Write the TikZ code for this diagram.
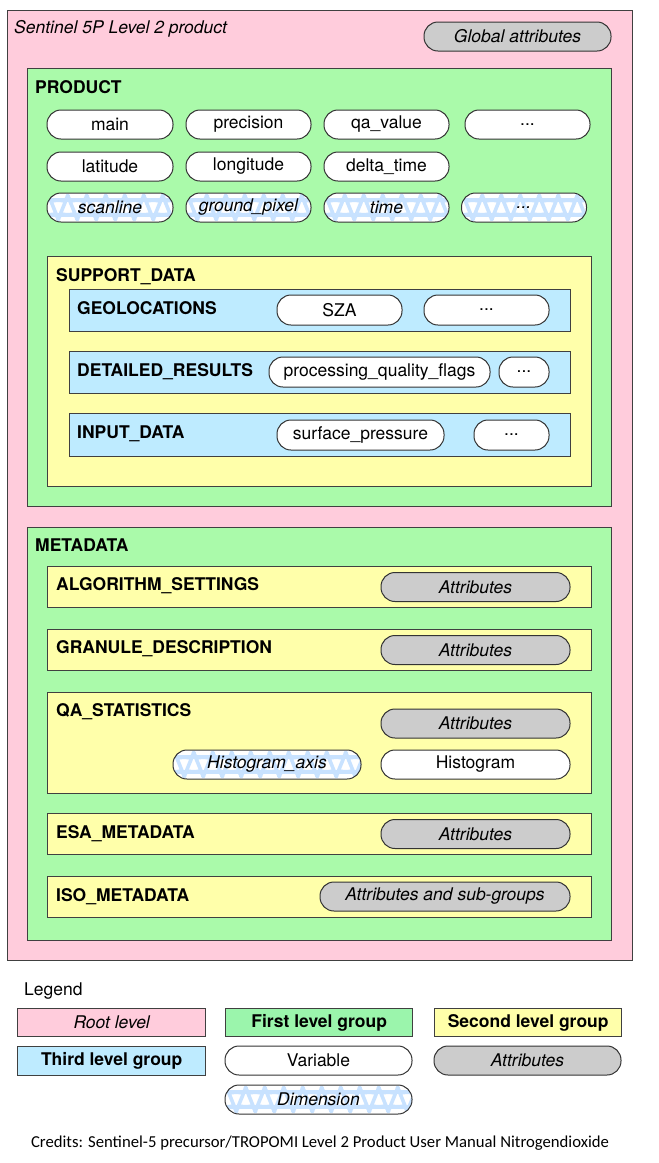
\documentclass[tikz,border=0pt]{standalone}
\usepackage{fontspec}
\setmainfont{TeX Gyre Heros}
\newfontfamily\credfont{Carlito}
\usepackage{tikz}

\newcommand{\fs}{\fontsize{17.5}{21}\selectfont}

\definecolor{rootpink}{RGB}{255,204,220}
\definecolor{firstgreen}{RGB}{170,250,170}
\definecolor{legendgreen}{RGB}{155,245,172}
\definecolor{secondyellow}{RGB}{255,255,170}
\definecolor{thirdblue}{RGB}{190,235,255}
\definecolor{attrgray}{RGB}{204,204,204}
\definecolor{wavecol}{RGB}{200,226,255}

\tikzset{
  grp/.style={draw=black!75, line width=1pt, anchor=north west, inner sep=0pt},
  root/.style={grp, fill=rootpink},
  first/.style={grp, fill=firstgreen},
  second/.style={grp, fill=secondyellow},
  third/.style={grp, fill=thirdblue},
  ttl/.style={anchor=base west, inner sep=0pt, font=\fs\bfseries},
  pill/.style={draw=black!80, line width=1pt, fill=white, rounded corners=14pt,
    minimum height=29pt, inner sep=0pt, font=\fs},
  attr/.style={pill, fill=attrgray, font=\fs\itshape},
  dimv/.style={pill, font=\fs\itshape,
    path picture={\draw[wavecol, line width=3.6pt] (path picture bounding box.west) ++(-3,0)
      \foreach \k in {1,...,11} {sin ++(4.75,-7.5) cos ++(4.75,7.5) sin ++(4.75,7.5) cos ++(4.75,-7.5)};}},
  legbox/.style={draw=black!75, line width=1.4pt, minimum width=188pt, minimum height=28pt,
    anchor=north west, inner sep=0pt}
}

\begin{document}
\begin{tikzpicture}[x=1pt, y=-1pt]
        \useasboundingbox (0,0) rectangle (659,1163);

        % Define the root level
        \node[root, minimum width=625pt, minimum height=950pt] (root) at (7,10) {};
        \node[anchor=base west, inner sep=0pt, font=\fs\itshape] (rootlbl) at (14,33) {Sentinel 5P Level 2 product};
        \node[attr, minimum width=187pt] (globattr) at (517.5,36.5) {Global attributes};

        % Define the PRODUCT group
        \node[first, minimum width=584pt, minimum height=438pt] (product) at (27,68) {};
        \node[ttl] (productlbl) at (35,93) {PRODUCT};
        \node[pill, minimum width=126pt] (main) at (110,124.5) {main};
        \node[pill, minimum width=125pt] (precision) at (248.5,124.5) {precision};
        \node[pill, minimum width=125pt] (qavalue) at (386.5,124.5) {qa\_value};
        \node[pill, minimum width=125pt] (prodmore) at (527.5,124.5) {...};
        \node[pill, minimum width=126pt] (latitude) at (110,166.5) {latitude};
        \node[pill, minimum width=125pt] (longitude) at (248.5,166.5) {longitude};
        \node[pill, minimum width=125pt] (deltatime) at (386.5,166.5) {delta\_time};
        \node[dimv, minimum width=126pt] (scanline) at (110,207.5) {scanline};
        \node[dimv, minimum width=125pt] (groundpixel) at (248.5,207.5) {ground\_pixel};
        \node[dimv, minimum width=125pt] (time) at (386.5,207.5) {time};
        \node[dimv, minimum width=125pt] (dimmore) at (524,207.5) {...};

        % Define the SUPPORT_DATA group
        \node[second, minimum width=544pt, minimum height=230pt] (support) at (47,256) {};
        \node[ttl] (supportlbl) at (56,281) {SUPPORT\_DATA};

        \node[third, minimum width=501pt, minimum height=42pt] (geoloc) at (69,289) {};
        \node[ttl] (geoloclbl) at (77,314) {GEOLOCATIONS};
        \node[pill, minimum width=125pt, minimum height=30pt] (sza) at (339.5,310) {SZA};
        \node[pill, minimum width=125pt, minimum height=30pt] (geomore) at (486.5,310) {...};

        \node[third, minimum width=501pt, minimum height=42pt] (detailed) at (69,351) {};
        \node[ttl] (detailedlbl) at (77,376) {DETAILED\_RESULTS};
        \node[pill, minimum width=221pt, minimum height=30pt] (pqf) at (379.5,372) {processing\_quality\_flags};
        \node[pill, minimum width=50pt, minimum height=30pt] (detmore) at (524,372) {...};

        \node[third, minimum width=501pt, minimum height=43pt] (input) at (69,413) {};
        \node[ttl] (inputlbl) at (77,438) {INPUT\_DATA};
        \node[pill, minimum width=167pt, minimum height=30pt] (surfp) at (360.5,435) {surface\_pressure};
        \node[pill, minimum width=75pt, minimum height=30pt] (inmore) at (511.5,435) {...};

        % Define the METADATA group
        \node[first, minimum width=584pt, minimum height=413pt] (metadata) at (27,527) {};
        \node[ttl] (metadatalbl) at (35,551) {METADATA};

        \node[second, minimum width=544pt, minimum height=41pt] (algo) at (47,566) {};
        \node[ttl] (algolbl) at (56,590) {ALGORITHM\_SETTINGS};
        \node[attr, minimum width=189pt] (algoattr) at (475.5,587) {Attributes};

        \node[second, minimum width=544pt, minimum height=41pt] (granule) at (47,629) {};
        \node[ttl] (granulelbl) at (56,653) {GRANULE\_DESCRIPTION};
        \node[attr, minimum width=189pt] (granattr) at (475.5,650) {Attributes};

        \node[second, minimum width=544pt, minimum height=101pt] (qastat) at (47,692) {};
        \node[ttl] (qastatlbl) at (56,716) {QA\_STATISTICS};
        \node[attr, minimum width=189pt] (qaattr) at (475.5,723.5) {Attributes};
        \node[dimv, minimum width=188pt] (histaxis) at (267,764.5) {Histogram\_axis};
        \node[pill, minimum width=189pt] (histogram) at (475.5,764.5) {Histogram};

        \node[second, minimum width=544pt, minimum height=41pt] (esa) at (47,813) {};
        \node[ttl] (esalbl) at (56,838) {ESA\_METADATA};
        \node[attr, minimum width=189pt] (esaattr) at (475.5,834) {Attributes};

        \node[second, minimum width=544pt, minimum height=41pt] (iso) at (47,876) {};
        \node[ttl] (isolbl) at (56,901) {ISO\_METADATA};
        \node[attr, minimum width=250pt] (isoattr) at (445,896.5) {Attributes and sub-groups};

        % Define the legend
        \node[anchor=base west, inner sep=0pt, font=\fs] (legend) at (24,995) {Legend};
        \node[legbox, fill=rootpink, font=\fs\itshape] (legroot) at (17,1008) {Root level};
        \node[legbox, fill=legendgreen, font=\fs\bfseries, minimum width=187pt] (legfirst) at (225,1008) {First level group};
        \node[legbox, fill=secondyellow, font=\fs\bfseries, minimum width=187pt] (legsecond) at (434,1008) {Second level group};
        \node[legbox, fill=thirdblue, font=\fs\bfseries, minimum height=29pt] (legthird) at (17,1046) {Third level group};
        \node[pill, minimum width=187pt] (legvar) at (318.5,1060.5) {Variable};
        \node[attr, minimum width=187pt] (legattr) at (527.5,1060.5) {Attributes};
        \node[dimv, minimum width=187pt] (legdim) at (318.5,1099.5) {Dimension};

        % Credits
        \node[anchor=base, inner sep=0pt, font=\credfont\fontsize{16.7}{19}\selectfont] (credits) at (320,1147)
          {Credits: Sentinel-5 precursor/TROPOMI Level 2 Product User Manual Nitrogendioxide};

    \end{tikzpicture}
\end{document}
